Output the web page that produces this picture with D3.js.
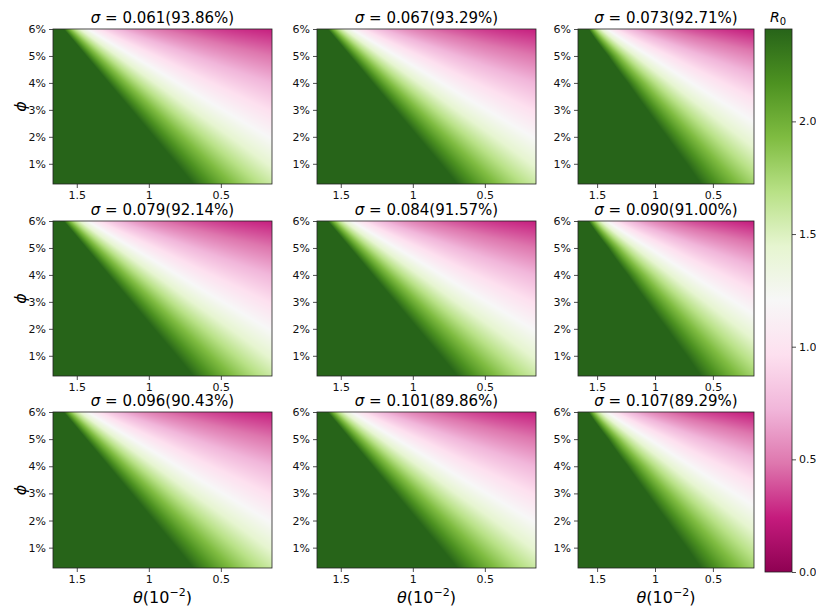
<!DOCTYPE html>
<html>
<head>
<meta charset="utf-8">
<script src="https://cdn.jsdelivr.net/npm/d3@7"></script>
<style>
  body { margin: 0; background: #fff; }
  svg { display: block; font-family: "DejaVu Sans", sans-serif; }
</style>
</head>
<body>
<svg id="chart" width="816" height="610"></svg>
<script>
// ---- DATA ----
const sigmaLabels = ['0.061', '0.067', '0.073', '0.079', '0.084', '0.090', '0.096', '0.101', '0.107'];
const shareLabels = ['93.86%', '93.29%', '92.71%', '92.14%', '91.57%', '91.00%', '90.43%', '89.86%', '89.29%'];
const thetaTicks = [1.5, 1, 0.5];
const phiTicks = [1, 2, 3, 4, 5, 6];
const cbTicks = [0, 0.5, 1, 1.5, 2];

// sample points of the R0 surface (theta in 1e-2, phi in %)
const thetaGrid = [1.65, 1.4, 1.15, 0.9, 0.65, 0.4, 0.15];
const phiGrid = [6, 5, 4, 3, 2, 1, 0.25];

// R0 read per panel; rows follow phiGrid, columns follow thetaGrid
// left and middle columns look alike
const r0Left = [
  [3.78, 1.12, 0.65, 0.46, 0.36, 0.29, 0.25],
  [7.4, 2.18, 1.28, 0.91, 0.70, 0.57, 0.48],
  [11.0, 3.25, 1.90, 1.35, 1.04, 0.85, 0.72],
  [14.6, 4.31, 2.53, 1.79, 1.38, 1.13, 0.95],
  [18.3, 5.38, 3.15, 2.23, 1.73, 1.41, 1.19],
  [21.9, 6.45, 3.78, 2.67, 2.07, 1.69, 1.42],
  [24.6, 7.24, 4.24, 3.00, 2.32, 1.90, 1.60]
];
// right column: green reaches further right, white band sits higher
const r0Right = [
  [4.63, 1.15, 0.655, 0.46, 0.35, 0.29, 0.24],
  [7.8, 2.38, 1.40, 1.00, 0.77, 0.63, 0.53],
  [9.6, 3.43, 2.09, 1.50, 1.17, 0.96, 0.81],
  [10.9, 4.35, 2.71, 1.97, 1.55, 1.28, 1.09],
  [11.7, 5.14, 3.29, 2.42, 1.91, 1.58, 1.35],
  [12.4, 5.85, 3.82, 2.84, 2.26, 1.87, 1.60],
  [12.8, 6.32, 4.19, 3.14, 2.50, 2.09, 1.79]
];
const r0Panels = [r0Left, r0Left, r0Right, r0Left, r0Left, r0Right, r0Left, r0Left, r0Right];

// PiYG (matplotlib) stops, low -> high
const piyg = ['#8e0152', '#c51b7d', '#de77ae', '#f1b6da', '#fde0ef', '#f7f7f7',
              '#e6f5d0', '#b8e186', '#7fbc41', '#4d9221', '#276419'];
const r0Max = 2.41;

// ---- LAYOUT ----
const colX = [[53, 272], [317, 536], [578, 754]];
const rowY = [[29, 184], [221, 376], [412, 568]];
const cb = { x0: 765, x1: 792, y0: 29, y1: 572 };

const svg = d3.select('#chart');
const colorOf = d3.scaleLinear()
  .domain(d3.range(piyg.length).map(i => i / (piyg.length - 1) * r0Max))
  .range(piyg)
  .interpolate(d3.interpolateRgb)
  .clamp(true);

// across theta: linear in 1/R0, across phi: linear in R0
function locate(arr, v) {
  let i = 0;
  while (i < arr.length - 2 && v < arr[i + 1]) i++;
  const t = (arr[i] - v) / (arr[i] - arr[i + 1]);
  return [i, Math.max(0, Math.min(1, t))];
}
function rowValue(row, c, tx) {
  const a = 1 / row[c], b = 1 / row[c + 1];
  return 1 / (a + (b - a) * tx);
}
function sampleR0(grid, th, ph) {
  const [c, tx] = locate(thetaGrid, th);
  const [r, ty] = locate(phiGrid, ph);
  const top = rowValue(grid[r], c, tx), bot = rowValue(grid[r + 1], c, tx);
  return top + (bot - top) * ty;
}

r0Panels.forEach((grid, k) => {
  const [x0, x1] = colX[k % 3];
  const [y0, y1] = rowY[Math.floor(k / 3)];
  const x = d3.scaleLinear().domain([1.665, 0.145]).range([x0, x1]);
  const y = d3.scaleLinear().domain([0.25, 6]).range([y1, y0]);
  const w = Math.round(x1 - x0), h = Math.round(y1 - y0);

  const canvas = document.createElement('canvas');
  canvas.width = w; canvas.height = h;
  const ctx = canvas.getContext('2d');
  const img = ctx.createImageData(w, h);
  for (let py = 0; py < h; py++) {
    const ph = y.invert(y0 + py + 0.5);
    for (let px = 0; px < w; px++) {
      const th = x.invert(x0 + px + 0.5);
      const c = d3.rgb(colorOf(sampleR0(grid, th, ph)));
      const o = (py * w + px) * 4;
      img.data[o] = c.r; img.data[o + 1] = c.g; img.data[o + 2] = c.b; img.data[o + 3] = 255;
    }
  }
  ctx.putImageData(img, 0, 0);

  const g = svg.append('g');
  g.append('image')
    .attr('x', x0).attr('y', y0).attr('width', w).attr('height', h)
    .attr('preserveAspectRatio', 'none')
    .attr('href', canvas.toDataURL());
  g.append('rect')
    .attr('x', x0).attr('y', y0).attr('width', x1 - x0).attr('height', y1 - y0)
    .attr('fill', 'none').attr('stroke', '#222').attr('stroke-width', 0.8);

  const ax = g.append('g').attr('transform', `translate(0,${y1})`)
    .call(d3.axisBottom(x).tickValues(thetaTicks).tickFormat(d3.format('~g')).tickSize(4).tickPadding(3).tickSizeOuter(0));
  const ay = g.append('g').attr('transform', `translate(${x0},0)`)
    .call(d3.axisLeft(y).tickValues(phiTicks).tickFormat(d => d + '%').tickSize(4).tickPadding(3).tickSizeOuter(0));
  [ax, ay].forEach(a => {
    a.select('.domain').remove();
    a.selectAll('text').attr('font-size', 11).attr('fill', '#111').attr('font-family', '"DejaVu Sans", sans-serif');
    a.selectAll('line').attr('stroke', '#222').attr('stroke-width', 0.8);
  });

  const title = g.append('text')
    .attr('x', (x0 + x1) / 2).attr('y', y0 - 6)
    .attr('text-anchor', 'middle').attr('font-size', 15).attr('fill', '#000');
  title.append('tspan').attr('font-style', 'italic').text('σ');
  title.append('tspan').text(` = ${sigmaLabels[k]}(${shareLabels[k]})`);

  if (k % 3 === 0) {
    g.append('text')
      .attr('transform', `translate(26,${(y0 + y1) / 2}) rotate(-90)`)
      .attr('text-anchor', 'middle').attr('font-size', 16).attr('font-style', 'italic')
      .text('ϕ');
  }
  if (k >= 6) {
    const xl = g.append('text')
      .attr('x', (x0 + x1) / 2).attr('y', 603)
      .attr('text-anchor', 'middle').attr('font-size', 16);
    xl.append('tspan').attr('font-style', 'italic').text('θ');
    xl.append('tspan').text('(10');
    xl.append('tspan').attr('font-size', 11).attr('dy', -7).text('−2');
    xl.append('tspan').attr('dy', 7).text(')');
  }
});

// ---- COLORBAR ----
const grad = svg.append('defs').append('linearGradient')
  .attr('id', 'cbGrad').attr('x1', 0).attr('y1', 1).attr('x2', 0).attr('y2', 0);
piyg.forEach((c, i) => grad.append('stop').attr('offset', i / (piyg.length - 1)).attr('stop-color', c));

svg.append('rect')
  .attr('x', cb.x0).attr('y', cb.y0).attr('width', cb.x1 - cb.x0).attr('height', cb.y1 - cb.y0)
  .attr('fill', 'url(#cbGrad)').attr('stroke', '#222').attr('stroke-width', 0.8);

const cbScale = d3.scaleLinear().domain([0, r0Max]).range([cb.y1, cb.y0]);
const cbAxis = svg.append('g').attr('transform', `translate(${cb.x1},0)`)
  .call(d3.axisRight(cbScale).tickValues(cbTicks).tickFormat(d3.format('.1f')).tickSize(4).tickPadding(3).tickSizeOuter(0));
cbAxis.select('.domain').remove();
cbAxis.selectAll('text').attr('font-size', 11).attr('fill', '#111').attr('font-family', '"DejaVu Sans", sans-serif');
cbAxis.selectAll('line').attr('stroke', '#222').attr('stroke-width', 0.8);

const cbLabel = svg.append('text').attr('x', 778).attr('y', 22).attr('text-anchor', 'middle').attr('font-size', 14);
cbLabel.append('tspan').attr('font-style', 'italic').text('R');
cbLabel.append('tspan').attr('font-size', 10).attr('dy', 3).text('0');
</script>
</body>
</html>
